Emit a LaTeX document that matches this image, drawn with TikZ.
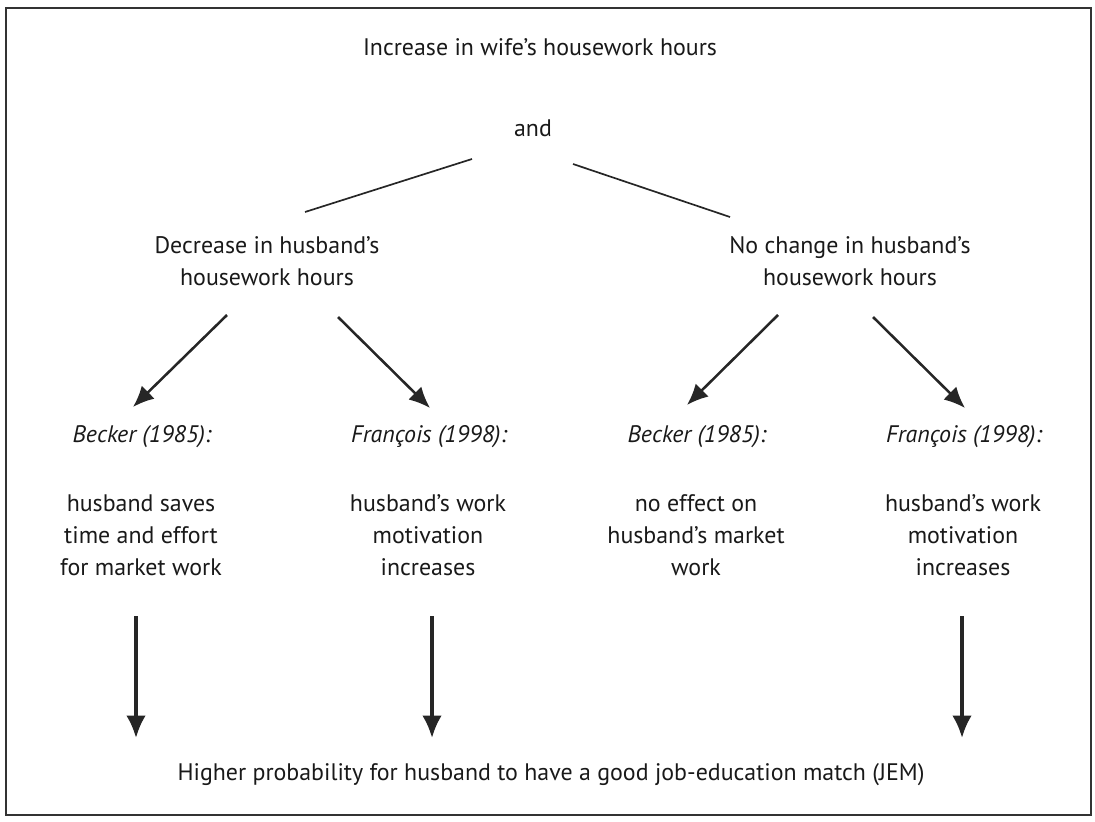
\documentclass[tikz,border=0pt]{standalone}
\usepackage{fontspec}
\setmainfont{PT Sans}
\usepackage{tikz}
\usetikzlibrary{positioning,arrows.meta}

\tikzset{
    txt/.style={align=center, inner sep=0pt, text=black!90, font=\fontsize{17}{22.75}\selectfont},
    cite/.style={txt, font=\fontsize{17}{22.75}\selectfont\itshape},
    arr/.style={line width=1.8pt, black!85, -{Latex[length=15pt,width=13pt]}},
    down/.style={arr, line width=2.4pt, -{Latex[length=16pt,width=14pt]}},
    link/.style={line width=1.2pt, black!85}
}

\begin{document}
\begin{tikzpicture}[x=0.025cm, y=-0.025cm]
    \useasboundingbox (0,0) rectangle (1095,821);
    \draw[line width=1pt, black!80] (6,8) rectangle (1091,815);
    % top
    \node[txt] (wife) at (540,47) {Increase in wife's housework hours};
    \node[txt] (and) at (533,128) {and};
    % branches
    \node[txt] (dec) at (267,261) {Decrease in husband's\\housework hours};
    \node[txt] (nochg) at (850,261) {No change in husband's\\housework hours};
    % col 1
    \node[cite] (beck1) at (142,437) {Becker (1985):};
    \node[txt] (save) at (141,535) {husband saves\\time and effort\\for market work};
    % col 2
    \node[cite] (fran1) at (429,437) {François (1998):};
    \node[txt] (motiv1) at (428,535) {husband's work\\motivation\\increases};
    % col 3
    \node[cite] (beck2) at (697,437) {Becker (1985):};
    \node[txt] (noeff) at (696,535) {no effect on\\husband's market\\work};
    % col 4
    \node[cite] (fran2) at (964,437) {François (1998):};
    \node[txt] (motiv2) at (963,535) {husband's work\\motivation\\increases};
    % bottom
    \node[txt] (jem) at (551,775) {Higher probability for husband to have a good job-education match (JEM)};

    % ends of the lines
    \coordinate (andL) at (472,159);
    \coordinate (andR) at (573,164);
    \coordinate (decT) at (305,212);
    \coordinate (nochgT) at (730,217);
    \draw[link] (decT) -- (andL);
    \draw[link] (andR) -- (nochgT);

    % ends of the arrows
    \coordinate (decL) at (227,315);
    \coordinate (decR) at (338,317);
    \coordinate (nochgL) at (778,315);
    \coordinate (nochgR) at (873,317);
    \coordinate (beck1T) at (133,407);
    \coordinate (fran1T) at (430,408);
    \coordinate (beck2T) at (687,405);
    \coordinate (fran2T) at (965,408);
    \draw[arr] (decL) -- (beck1T);
    \draw[arr] (decR) -- (fran1T);
    \draw[arr] (nochgL) -- (beck2T);
    \draw[arr] (nochgR) -- (fran2T);

    \coordinate (save1) at (136,616);
    \coordinate (motiv1B) at (432,616);
    \coordinate (motiv2B) at (962,616);
    \coordinate (jem1) at (136,738);
    \coordinate (jem2) at (432,738);
    \coordinate (jem3) at (962,738);
    \draw[down] (save1) -- (jem1);
    \draw[down] (motiv1B) -- (jem2);
    \draw[down] (motiv2B) -- (jem3);
\end{tikzpicture}
\end{document}
